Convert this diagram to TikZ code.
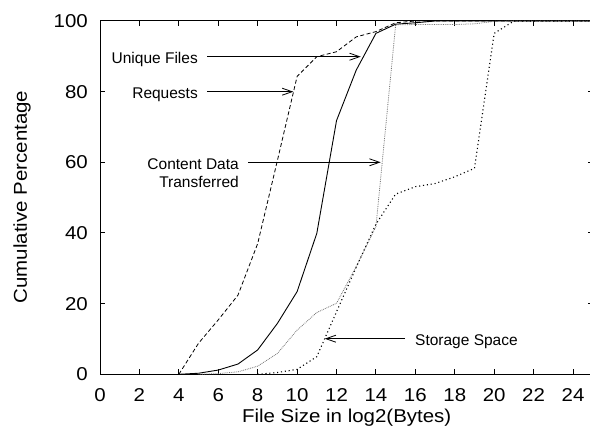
\documentclass[tikz,border=0pt]{standalone}
\usepackage{fontspec}
\setmainfont{Liberation Sans}[FakeStretch=1.1]
\newfontfamily\annfont{Liberation Sans}
\usetikzlibrary{arrows.meta}
\begin{document}
\begin{tikzpicture}[
  axlab/.style={font=\fontsize{18.6}{22}\selectfont, inner sep=0pt},
  ann/.style={font=\annfont\fontsize{15.5}{18}\selectfont, inner ysep=0pt, inner xsep=9pt, text height=14pt, text depth=0pt},
  pointer/.style={line width=0.8pt, -{Straight Barb[length=10pt,width=7pt,line width=0.8pt]}},
  plotframe/.style={line width=1pt},
  reqline/.style={line width=0.8pt, dash pattern=on 4pt off 2.5pt},
  ufline/.style={line width=0.9pt},
  cdtline/.style={line width=0.8pt, black!55, dash pattern=on 0.8pt off 1pt},
  ssline/.style={line width=1.1pt, dash pattern=on 1.1pt off 2.8pt},
]
\useasboundingbox (0,0) rectangle (590pt,426pt);

\begin{scope}[x=19.71pt, y=3.533pt, shift={(100pt,51.7pt)}]
  % frame and ticks
  \draw[plotframe] (0,0) rectangle (25,100);
  \foreach \i in {2,4,...,24} {
    \draw[plotframe] (\i,0) -- ++(0,5pt);
    \draw[plotframe] (\i,100) -- ++(0,-5pt);
  }
  \foreach \j in {20,40,...,80} {
    \draw[plotframe] (0,\j) -- ++(5pt,0);
    \draw[plotframe] (25,\j) -- ++(-5pt,0);
  }
  \foreach \i in {0,2,...,24} {
    \node[axlab, anchor=base] (xt\i) at (\i,-7.76) {\i};
  }
  \foreach \j in {0,20,...,100} {
    \node[axlab, anchor=east] (yt\j) at ([xshift=-12pt]0,\j) {\j};
  }

  % curves
  \draw[reqline] plot coordinates {(4,0) (5,8.8) (6,15.4) (7,22.4) (8,37) (9,60.5) (10,84.3) (11,89.9) (12,91.3) (13,95.5) (14,97) (15,99.5) (16,100) (25,100)};
  \draw[ufline] plot coordinates {(4,0) (5,0.3) (6,1.2) (7,2.9) (8,6.9) (9,14.4) (10,23.4) (11,39.9) (12,71.8) (13,86.1) (14,96.5) (15,99.1) (16,99.5) (17,100) (25,100)};
  \draw[cdtline] plot coordinates {(5,0) (6,0.2) (7,0.7) (8,2.3) (9,5.9) (10,12.5) (11,17.5) (12,20.1) (13,30.5) (14,41.8) (15,98.9) (16,99) (17,99) (18,99) (19,99.2) (20,99.9) (21,100) (25,100)};
  \draw[ssline] plot coordinates {(8,0) (9,0.5) (10,1.4) (11,5) (12,17.7) (13,30.3) (14,42.5) (15,51) (16,53.1) (17,54) (18,55.9) (19,58.3) (20,96.5) (21,100) (25,100)};

  % arrow tips
  \coordinate (ufTip) at (13.23,90);
  \coordinate (rqTip) at (9.81,80);
  \coordinate (cdTip) at (14.24,60);
  \coordinate (ssTip) at (11.40,10.1);
\end{scope}

% axis labels
\node[axlab, anchor=base] (xlab) at (346.7pt,3.3pt) {File Size in log2(Bytes)};
\node[axlab, rotate=90] (ylab) at (22pt,229pt) {Cumulative Percentage};

% annotations
\node[ann, anchor=east] (ufLab) at (207pt,369.3pt) {Unique Files};
\node[ann, anchor=east] (rqLab) at (207pt,334.3pt) {Requests};
\node[ann, anchor=east] (cdLab) at (248pt,263.7pt) {Content Data};
\node[ann, anchor=east] (cdLabB) at (248pt,245pt) {Transferred};
\node[ann, anchor=west, inner xsep=10pt] (ssLab) at (405pt,87.3pt) {Storage Space};

\draw[pointer] (ufLab.east) -- (ufLab.east -| ufTip);
\draw[pointer] (rqLab.east) -- (rqLab.east -| rqTip);
\draw[pointer] (cdLab.east) -- (cdLab.east -| cdTip);
\draw[pointer] (ssLab.west) -- (ssLab.west -| ssTip);
\end{tikzpicture}
\end{document}
